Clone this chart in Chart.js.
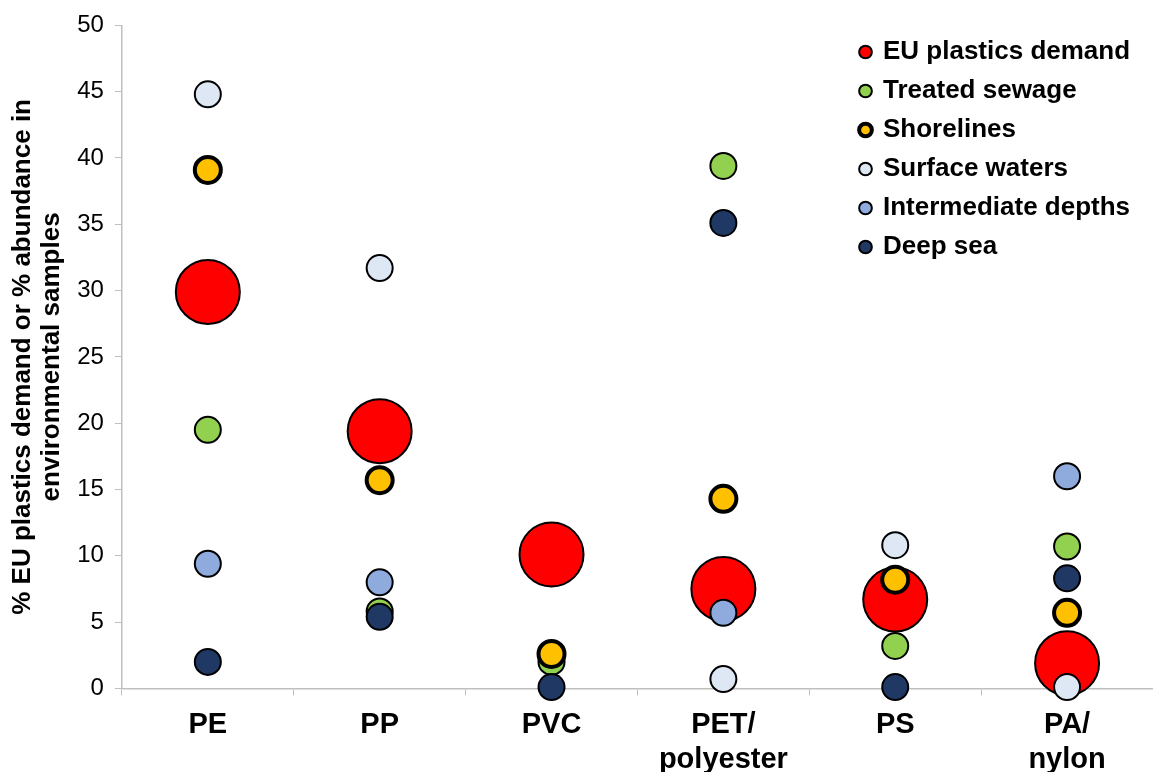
<!DOCTYPE html>
<html>
<head>
<meta charset="utf-8">
<script src="https://cdn.jsdelivr.net/npm/chart.js@4/dist/chart.umd.min.js"></script>
<style>
	html, body { margin: 0; padding: 0; background: #fff; }
	#wrap { width: 1153px; height: 772px; }
</style>
</head>
<body>
<div id="wrap"><canvas id="plastics"></canvas></div>
<script>
var categories = [ "PE", "PP", "PVC", [ "PET/", "polyester" ], "PS", [ "PA/", "nylon" ] ];
var yTicks = [ 0, 5, 10, 15, 20, 25, 30, 35, 40, 45, 50 ];

var seriesNames = [ "EU plastics demand", "Treated sewage", "Shorelines", "Surface waters", "Intermediate depths", "Deep sea" ];
var euDemand = [ 29.9, 19.4, 10.1, 7.5, 6.7, 1.9 ];
var treatedSewage = [ 19.5, 5.8, 2.0, 39.4, 3.2, 10.7 ];
var shorelines = [ 39.1, 15.7, 2.6, 14.3, 8.2, 5.7 ];
var surfaceWaters = [ 44.8, 31.7, null, 0.7, 10.8, 0.1 ];
var intermediateDepths = [ 9.4, 8.0, null, 5.7, null, 16.0 ];
var deepSea = [ 2.0, 5.4, 0.1, 35.1, 0.1, 8.3 ];

var fills = [ "#ff0000", "#92d050", "#ffc000", "#dee8f5", "#8faadc", "#1f3864" ];
var radius = [ 32, 13, 13, 13, 13, 13 ];
var border = [ 2, 2, 4, 2, 2, 2 ];

var font = "'Liberation Sans', Arial, sans-serif";

// put the legend inside the plot, top right
var legendMover = {
	id: 'legendMover',
	afterLayout: function(chart) {
		var lg = chart.legend;
		var w = lg.width, h = lg.height;
		lg.left = 848;
		lg.top = 26;
		lg.right = lg.left + w;
		lg.bottom = lg.top + h;
	}
};

function buildDatasets() {
	var values = [ euDemand, treatedSewage, shorelines, surfaceWaters, intermediateDepths, deepSea ];
	var sets = [];
	for (var i = 0; i < values.length; i++) {
		sets.push({
			label : seriesNames[i],
			data : values[i],
			showLine : false,
			backgroundColor : fills[i],
			borderColor : "#000",
			borderWidth : border[i],
			pointRadius : radius[i],
			pointHoverRadius : radius[i],
			pointStyle : 'circle',
			clip : false,
			order : values.length - i
		});
	}
	return sets;
}

function setChart() {
	new Chart(document.getElementById("plastics"), {
		type : 'line',
		data : {
			labels : categories,
			datasets : buildDatasets()
		},
		plugins : [ legendMover ],
		options : {
			responsive : true,
			maintainAspectRatio : false,
			animation : false,
			layout : { autoPadding : false, padding : { top : 18, right : 0, bottom : -17, left : 0 } },
			plugins : {
				tooltip : { enabled : false },
				legend : {
					position : 'chartArea',
					align : 'start',
					reverse : true,
					labels : {
						usePointStyle : true,
						boxWidth : 9,
						boxHeight : 9,
						padding : 13,
						color : "#000",
						font : { family : font, size : 26, weight : 'bold' }
					}
				}
			},
			scales : {
				x : {
					offset : true,
					grid : {
						display : true,
						offset : true,
						drawOnChartArea : false,
						drawTicks : true,
						tickLength : 7,
						color : "#bfbfbf"
					},
					border : { color : "#bfbfbf", width : 1.5 },
					ticks : {
						color : "#000",
						padding : 12,
						maxRotation : 0,
						autoSkip : false,
						font : { family : font, size : 29, weight : 'bold', lineHeight : 1.2 }
					}
				},
				y : {
					min : 0,
					max : 50,
					afterBuildTicks : function(axis) {
						axis.ticks = yTicks.map(function(v) { return { value : v }; });
					},
					grid : {
						display : true,
						drawOnChartArea : false,
						drawTicks : true,
						tickLength : 7,
						color : "#bfbfbf"
					},
					border : { color : "#bfbfbf", width : 1.5 },
					ticks : {
						color : "#000",
						padding : 11,
						font : { family : font, size : 24 }
					},
					title : {
						display : true,
						text : [ "% EU plastics demand or % abundance in", "environmental samples" ],
						color : "#000",
						padding : { top : 9, bottom : 0 },
						font : { family : font, size : 26, weight : 'bold', lineHeight : 1.1 }
					}
				}
			}
		}
	});
}

setChart();
</script>
</body>
</html>
